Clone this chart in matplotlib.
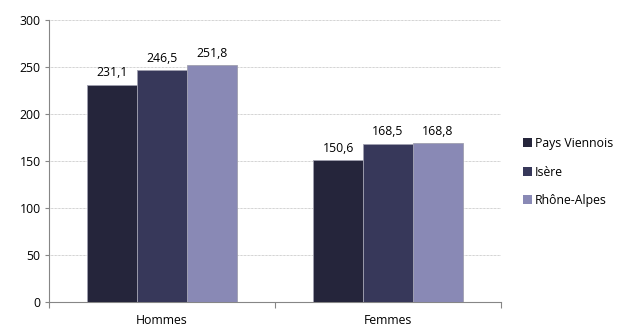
import matplotlib
matplotlib.use("Agg")
import matplotlib.pyplot as plt
import numpy as np

categories = ["Hommes", "Femmes"]
series_names = ["Pays Viennois", "Isère", "Rhône-Alpes"]
values = {
    "Pays Viennois": [231.1, 150.6],
    "Isère": [246.5, 168.5],
    "Rhône-Alpes": [251.8, 168.8],
}
colors = ["#25253b", "#37385a", "#8989b5"]
yticks = [0, 50, 100, 150, 200, 250, 300]

plt.rcParams["font.family"] = ["Open Sans", "DejaVu Sans"]
FS = 8.8

W, H = 619, 327
fig = plt.figure(figsize=(W / 100, H / 100), dpi=100)
ax = fig.add_axes([49 / W, 1 - 302 / H, (501 - 49) / W, (302 - 20) / H])

x = np.arange(len(categories))
bw = 0.66 / 3
for i, name in enumerate(series_names):
    pos = x - 0.33 + bw * (i + 0.5)
    bars = ax.bar(pos, values[name], width=bw, color=colors[i],
                  edgecolor="#a0a0b0", linewidth=0.6, zorder=3, label=name)
    for b, v in zip(bars, values[name]):
        ax.text(b.get_x() + b.get_width() / 2, v + 6,
                f"{v:.1f}".replace(".", ","), ha="center", va="bottom",
                fontsize=FS, color="#000000")

ax.set_xlim(-0.5, 1.5)
ax.set_ylim(0, 300)
ax.set_yticks(yticks)
ax.set_yticklabels([str(t) for t in yticks], fontsize=FS)
ax.yaxis.grid(True, linestyle=(0, (1, 1)), color="#a8a8a8", linewidth=0.5, zorder=0)

ax.set_xticks([-0.5, 0.5, 1.5])
ax.set_xticklabels([])
ax.set_xticks(x, minor=True)
ax.set_xticklabels(categories, minor=True, fontsize=FS)
ax.tick_params(axis="x", which="minor", length=0, pad=8.5)
ax.tick_params(axis="x", which="major", length=4, color="#868686", direction="out")
ax.tick_params(axis="y", length=3, color="#868686", direction="out", pad=3)

for s in ["top", "right"]:
    ax.spines[s].set_visible(False)
for s in ["left", "bottom"]:
    ax.spines[s].set_color("#868686")
    ax.spines[s].set_linewidth(0.8)

handles = [plt.Rectangle((0, 0), 1, 1, facecolor=c, edgecolor="none") for c in colors]
fig.legend(handles, series_names, loc="center left",
           bbox_to_anchor=(523 / W, 1 - 172 / H), frameon=False,
           fontsize=FS, handlelength=0.75, handleheight=0.75,
           handletextpad=0.2, labelspacing=1.25, borderaxespad=0,
           borderpad=0)

fig.savefig("out.png", dpi=100)
